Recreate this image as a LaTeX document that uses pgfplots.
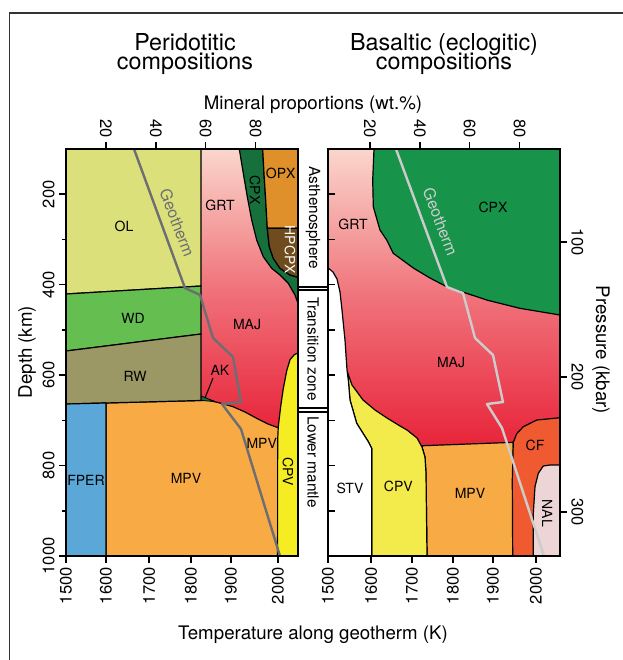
\documentclass[border=0pt]{standalone}
\usepackage{fontspec}
\setmainfont{TeX Gyre Heros}
\usepackage{pgfplots}
\pgfplotsset{compat=1.18}

\definecolor{olC}{HTML}{DCE07A}
\definecolor{wdC}{HTML}{64BE50}
\definecolor{rwC}{HTML}{9C9866}
\definecolor{fperC}{HTML}{5BA8D8}
\definecolor{mpvC}{HTML}{F8AA44}
\definecolor{cpvC}{HTML}{F5EC22}
\definecolor{cpvR}{HTML}{F3EA4C}
\definecolor{grtTop}{HTML}{FAD6CC}
\definecolor{grtMid}{HTML}{F0727A}
\definecolor{majBot}{HTML}{E8243A}
\definecolor{cpxL}{HTML}{17703C}
\definecolor{cpxR}{HTML}{17944A}
\definecolor{opxC}{HTML}{E0902A}
\definecolor{hpcpxC}{HTML}{6E4C1E}
\definecolor{cfC}{HTML}{F05A30}
\definecolor{nalC}{HTML}{EDD5D5}
\definecolor{geoL}{HTML}{6D6E71}
\definecolor{geoR}{HTML}{CCCCCC}

\tikzset{rl/.style={font=\fontsize{10.5}{12}\selectfont}}

\pgfplotsset{
  dataax/.style={scale only axis, width=174pt, height=305.25pt, anchor=south west,
    ymin=100, ymax=1000, y dir=reverse, hide axis, clip=true},
  frameax/.style={scale only axis, width=174pt, height=305.25pt, anchor=south west,
    axis line style={line width=1.4pt, black}, tick style={line width=1.1pt, black},
    tick align=outside, major tick length=5pt, minor tick length=3pt,
    tick label style={font=\fontsize{12.4}{14}\selectfont},
    /pgf/number format/assume math mode=true},
  bnd/.style={draw=black, line width=0.9pt, line join=round},
}

\begin{document}
\begin{tikzpicture}
\useasboundingbox (-49.5pt,-78pt) rectangle (417.75pt,417pt);

%================ LEFT PANEL DATA ================
\begin{axis}[dataax, at={(0pt,0pt)}, xmin=4, xmax=97]
\addplot[draw=none, top color=grtTop, bottom color=majBot, middle color=grtMid]
  coordinates {(58.12,100) (97,100) (97,722) (58.12,722)} -- cycle;
% MPV
\addplot[bnd, fill=mpvC] coordinates {(20.03,661.6) (58.12,656.1) (60.52,655.0) (65.73,661.7) (70.94,669.8) (75.75,681.6) (80.44,695.5) (84.97,708.1) (89.1,716.5) (97,716.5) (97,1000) (20.03,1000)} -- cycle;
% CPV
\addplot[bnd, fill=cpvC] coordinates {(97,551) (95.5,555) (93.8,566) (92.5,590) (91.1,630) (90.1,668) (89.1,714) (88.85,745) (88.82,1000) (97,1000)} -- cycle;
% AK
\addplot[bnd, line width=0.6pt, fill=cpxL] coordinates {(58.12,646.2) (58.12,656.1) (63.73,658.3)} -- cycle;
% CPX
\addplot[bnd, fill=cpxL] coordinates {(73.47,100) (75.07,153.7) (76.68,205.5) (78.44,257.0) (80.44,301.2) (83.09,338.2) (86.45,363.8) (89.78,378.6) (93.10,397.0) (95.79,422.8) (97,441.2) (97,383.7) (93.79,378.6) (89.78,363.8) (87.09,341.7) (85.49,316.0) (84.69,275.4) (84.05,212.8) (83.37,153.7) (82.85,100)} -- cycle;
% OPX
\addplot[bnd, fill=opxC] coordinates {(82.85,100) (97,100) (97,275.4) (84.69,275.4) (84.05,212.8) (83.37,153.7)} -- cycle;
% HPCPX
\addplot[bnd, fill=hpcpxC] coordinates {(84.69,275.4) (97,275.4) (97,383.7) (93.79,378.6) (89.78,363.8) (87.09,341.7) (85.49,316.0)} -- cycle;
% OL, WD, RW, FPER
\addplot[bnd, fill=olC] coordinates {(4,100) (58.12,100) (58.12,403.0) (4,420.6)} -- cycle;
\addplot[bnd, fill=wdC] coordinates {(4,420.6) (58.12,403.0) (58.12,509.1) (4,546.7)} -- cycle;
\addplot[bnd, fill=rwC] coordinates {(4,546.7) (58.12,509.1) (58.12,656.1) (4,663.9)} -- cycle;
\addplot[bnd, fill=fperC] coordinates {(4,663.9) (20.03,661.6) (20.03,1000) (4,1000)} -- cycle;
% Geotherm
\addplot[geoL, line width=1.8pt, line join=round] coordinates {(31.26,100) (51.70,407.4) (57.72,422.8) (62.93,517.9) (70.94,559.9) (74.15,659.5) (66.53,663.9) (74.15,719.2) (89.78,1000)};
\draw[line width=0.8pt] (axis cs:62.93,606.4) -- (axis cs:59.72,650.6);
\node[rl] at (axis cs:27.25,271.8) {OL};
\node[rl] at (axis cs:65.73,223.8) {GRT};
\node[rl, rotate=-90] at (axis cs:79.76,190.7) {CPX};
\node[rl] at (axis cs:90.06,153.1) {OPX};
\node[rl, rotate=-90, white] at (axis cs:93.79,323.3) {HPCPX};
\node[rl] at (axis cs:30.86,473.7) {WD};
\node[rl] at (axis cs:31.66,602.0) {RW};
\node[rl] at (axis cs:76.56,489.2) {MAJ};
\node[rl] at (axis cs:65.73,588.7) {AK};
\node[rl] at (axis cs:82.45,750.1) {MPV};
\node[rl] at (axis cs:52.10,827.5) {MPV};
\node[rl] at (axis cs:12.02,833.5) {FPER};
\node[rl, rotate=-90] at (axis cs:92.99,813.6) {CPV};
\node[font=\fontsize{12}{14}\selectfont, rotate=-69, text=geoL] at (axis cs:48.6,263.6) {Geotherm};
\end{axis}

% left frame: top % ticks, left depth ticks
\begin{axis}[frameax, at={(0pt,0pt)}, xmin=4, xmax=97, ymin=-1000, ymax=-100,
  xtick={20,40,60,80}, xtick pos=right, xticklabel pos=right,
  xticklabel style={rotate=-90, anchor=east},
  ytick={-1000,-800,-600,-400,-200}, yticklabels={1000,800,600,400,200},
  minor ytick={-900,-700,-500,-300}, ytick pos=left,
  yticklabel style={rotate=90, anchor=south}]
\addplot[draw=none] coordinates {(50,-500)};
\end{axis}
% left bottom temperature ticks
\begin{axis}[frameax, at={(0pt,0pt)}, xmin=1500, xmax=2047.2, ymin=0, ymax=1,
  hide y axis, axis x line*=bottom,
  xtick={1500,1594.3,1695.8,1794.8,1889.2,2000}, xticklabels={1500,1600,1700,1800,1900,2000},
  xticklabel style={rotate=90, anchor=east}]
\addplot[draw=none] coordinates {(1600,0.5)};
\end{axis}

%================ RIGHT PANEL DATA ================
\begin{axis}[dataax, at={(196.5pt,0pt)}, xmin=3.2, xmax=96.2]
\addplot[draw=none, top color=grtTop, bottom color=majBot, middle color=grtMid]
  coordinates {(3.2,100) (96.2,100) (96.2,757) (3.2,757)} -- cycle;
% CPX
\addplot[bnd, fill=cpxR] coordinates {(21.64,100) (96.2,100) (96.2,467.1) (80.16,452.3) (66.82,433.9) (50.78,404.5) (44.09,385.3) (37.39,363.1) (29.37,330.6) (26.73,301.2) (24.04,279.1) (21.36,227.6) (21.12,168.6)} -- cycle;
% MPV
\addplot[bnd, fill=mpvC] coordinates {(40.88,759.0) (41.3,756.1) (77.48,748.6) (77.48,1000) (42.89,1000) (42.48,816.5) (42.08,781.1)} -- cycle;
% CPV
\addplot[bnd, fill=cpvR] coordinates {(10.82,590.9) (12.82,621.9) (17.23,655.0) (22.04,677.1) (26.85,694.8) (32.06,712.5) (34.87,721.4) (38.88,739.0) (40.88,759.0) (42.08,781.1) (42.48,816.5) (42.89,1000) (20.72,1000) (20.72,761.9) (19.35,747.2) (14.70,706.5) (12.02,655.0) (11.34,610.8)} -- cycle;
% STV
\addplot[bnd, fill=white] coordinates {(3.2,363.1) (4.0,366.4) (5.20,372.0) (6.81,387.5) (8.01,416.2) (8.81,456.0) (10.01,522.4) (10.82,588.7) (11.34,610.8) (12.02,655.0) (14.70,706.5) (19.35,747.2) (20.72,761.9) (20.72,1000) (3.2,1000)} -- cycle;
% CF
\addplot[bnd, fill=cfC] coordinates {(77.48,748.6) (78.84,729.6) (81.49,714.1) (86.86,699.3) (96.2,694.2) (96.2,1000) (77.24,1000) (77.08,832.0)} -- cycle;
% NAL
\addplot[bnd, fill=nalC] coordinates {(85.50,1000) (85.50,905.6) (86.18,846.7) (87.50,817.2) (89.50,801.0) (92.19,798.8) (96.2,798.8) (96.2,1000)} -- cycle;
% Geotherm
\addplot[geoR, line width=1.8pt, line join=round] coordinates {(30.46,100) (50.90,405.2) (57.32,418.4) (62.13,517.9) (69.34,555.5) (73.35,659.5) (66.94,663.9) (72.95,716.9) (89.78,1000)};
\node[rl] at (axis cs:13.22,265.8) {GRT};
\node[rl] at (axis cs:69.34,229.8) {CPX};
\node[rl] at (axis cs:52.51,572.6) {MAJ};
\node[rl] at (axis cs:12.02,850.3) {STV};
\node[rl] at (axis cs:31.38,846.7) {CPV};
\node[rl] at (axis cs:60.12,861.4) {MPV};
\node[rl] at (axis cs:86.18,754.5) {CF};
\node[rl, rotate=-90] at (axis cs:91.11,905.6) {NAL};
\node[font=\fontsize{12}{14}\selectfont, rotate=-69, text=geoR] at (axis cs:48.3,261.4) {Geotherm};
\end{axis}

% right frame: top % ticks, right pressure ticks
\begin{axis}[frameax, at={(196.5pt,0pt)}, xmin=3.2, xmax=96.2, ymin=-1000, ymax=-100,
  xtick={20,40,60,80}, xtick pos=right, xticklabel pos=right,
  xticklabel style={rotate=-90, anchor=east},
  ytick={-902.7,-604.2,-305.7}, yticklabels={300,200,100},
  ytick pos=right, yticklabel pos=right,
  yticklabel style={rotate=-90, anchor=south}]
\addplot[draw=none] coordinates {(50,-500)};
\end{axis}
% right inner depth ticks
\begin{axis}[frameax, at={(196.5pt,0pt)}, xmin=0, xmax=1, ymin=-1000, ymax=-100,
  hide x axis, axis y line*=left, tick align=inside,
  ytick={-900,-800,-700,-600,-500,-400,-300,-200}, yticklabels={}]
\addplot[draw=none] coordinates {(0.5,-500)};
\end{axis}
% right bottom temperature ticks
\begin{axis}[frameax, at={(196.5pt,0pt)}, xmin=1500, xmax=2057.7, ymin=0, ymax=1,
  hide y axis, axis x line*=bottom,
  xtick={1500,1603.4,1701.9,1800.5,1896.6,2000}, xticklabels={1500,1600,1700,1800,1900,2000},
  xticklabel style={rotate=90, anchor=east}]
\addplot[draw=none] coordinates {(1600,0.5)};
\end{axis}

%================ OUTER TEXT ================
\begin{scope}[xshift=-49.5pt, yshift=417pt, x=0.75pt, y=-0.75pt]
\draw[line width=1pt, black!80] (9.5,660) -- (9.5,13) -- (623,13);
\node[font=\fontsize{17.5}{19}\selectfont, anchor=base] at (185,51) {Peridotitic};
\node[font=\fontsize{17.5}{19}\selectfont, anchor=base] at (185,70) {compositions};
\node[font=\fontsize{17.5}{19}\selectfont, anchor=base] at (444,51) {Basaltic (eclogitic)};
\node[font=\fontsize{17.5}{19}\selectfont, anchor=base] at (444,70) {compositions};
\node[font=\fontsize{14}{16}\selectfont, anchor=base] at (313,110) {Mineral proportions (wt.\%)};
\node[font=\fontsize{14}{16}\selectfont, anchor=base] at (313,639) {Temperature along geotherm (K)};
\node[font=\fontsize{14}{16}\selectfont, rotate=90] at (27,352) {Depth (km)};
\node[font=\fontsize{14}{16}\selectfont, rotate=-90] at (601,350) {Pressure (kbar)};
% middle boxes
\draw[line width=0.8pt] (298,287) -- (327.5,287) -- (327.5,149);
\draw[line width=0.8pt] (298,290) -- (327.5,290) -- (327.5,408) -- (298,408);
\draw[line width=0.8pt] (298,412) -- (327.5,412) -- (327.5,556);
\node[font=\fontsize{11.5}{13}\selectfont, rotate=-90] at (313,218) {Asthenosphere};
\node[font=\fontsize{11.5}{13}\selectfont, rotate=-90] at (313,349) {Transition zone};
\node[font=\fontsize{11.5}{13}\selectfont, rotate=-90] at (313,462) {Lower mantle};
\end{scope}
\end{tikzpicture}
\end{document}
